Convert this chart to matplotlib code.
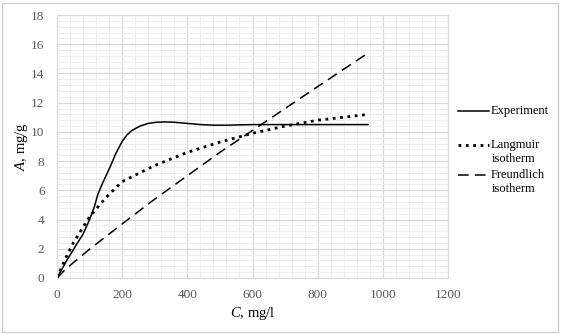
import matplotlib.pyplot as plt
from matplotlib.lines import Line2D
from matplotlib.patches import Rectangle
from matplotlib.ticker import MultipleLocator

plt.rcParams['font.family'] = ['Liberation Serif', 'DejaVu Serif']
plt.rcParams['mathtext.fontset'] = 'custom'
plt.rcParams['mathtext.it'] = 'Liberation Serif:italic'
plt.rcParams['mathtext.rm'] = 'Liberation Serif'

c_exp = [0, 15, 30, 60, 80, 100, 115, 125, 140, 163, 180, 200, 215, 230, 255, 280,
         305, 330, 360, 400, 440, 480, 520, 560, 600, 700, 800, 955]
a_exp = [0, 0.6, 1.2, 2.3, 3.0, 4.0, 4.9, 5.7, 6.5, 7.6, 8.5, 9.35, 9.8, 10.1, 10.4,
         10.58, 10.66, 10.68, 10.66, 10.58, 10.5, 10.46, 10.46, 10.48, 10.5, 10.5, 10.5, 10.5]

c_lang = [0, 25, 50, 100, 150, 200, 300, 400, 500, 600, 700, 800, 955]
a_lang = [0, 1.3, 2.4, 4.2, 5.5, 6.6, 7.7, 8.6, 9.3, 9.9, 10.4, 10.8, 11.2]

c_freu = [0, 20, 50, 100, 200, 300, 400, 500, 600, 700, 800, 955]
a_freu = [0, 0.46, 1.05, 1.97, 3.7, 5.4, 7.0, 8.6, 10.1, 11.6, 13.1, 15.4]

labels = ["Experiment", "Langmuir\nisotherm", "Freundlich\nisotherm"]
styles = ["-", ":", (0, (7, 4))]
widths = [1.1, 2.0, 1.1]

fig = plt.figure(figsize=(5.62, 3.34), dpi=100)
ax = fig.add_axes([57 / 562, 1 - 278 / 334, 391 / 562, 263 / 334])

ax.plot(c_exp, a_exp, color="black", linestyle=styles[0], linewidth=widths[0])
ax.plot(c_lang, a_lang, color="black", linestyle=styles[1], linewidth=widths[1])
ax.plot(c_freu, a_freu, color="black", linestyle=styles[2], linewidth=widths[2])

ax.set_xlim(0, 1200)
ax.set_ylim(0, 18)
ax.xaxis.set_major_locator(MultipleLocator(200))
ax.xaxis.set_minor_locator(MultipleLocator(40))
ax.yaxis.set_major_locator(MultipleLocator(2))
ax.yaxis.set_minor_locator(MultipleLocator(0.4))
ax.grid(which="major", color="#d9d9d9", linewidth=0.9)
ax.grid(which="minor", color="#eeeeee", linewidth=0.7)
ax.set_axisbelow(True)
ax.tick_params(which="both", length=0, labelsize=9.5, colors="#595959")
ax.tick_params(axis="y", pad=9)
ax.tick_params(axis="x", pad=8)
for s in ax.spines.values():
    s.set_color("#d9d9d9")

ax.set_xlabel(r"$\it{C}$, mg/l", fontsize=10.5)
ax.set_ylabel(r"$\it{A}$, mg/g", fontsize=10.5)
ax.xaxis.set_label_coords(0.5, -(305 - 278) / 263)
ax.yaxis.set_label_coords(-(57 - 30) / 391, 0.5)

# Legende rechts
ys = [1 - 111 / 334, 1 - 145 / 334, 1 - 175 / 334]
for y, lab, ls, lw in zip(ys, labels, styles, widths):
    fig.add_artist(Line2D([458 / 562, 489 / 562], [y, y], color="black",
                          linestyle=ls, linewidth=lw))
    lines = lab.split("\n")
    fig.text(491 / 562, y, lines[0], fontsize=9, va="center", ha="left")
    if len(lines) > 1:
        fig.text(492 / 562, y - 13.5 / 334, lines[1], fontsize=9, va="center", ha="left")

fig.add_artist(Rectangle((2 / 562, 2 / 334), 556 / 562, 329 / 334, fill=False,
                         edgecolor="#d0d0d0", linewidth=1, transform=fig.transFigure))

fig.savefig("out.png", dpi=100)
